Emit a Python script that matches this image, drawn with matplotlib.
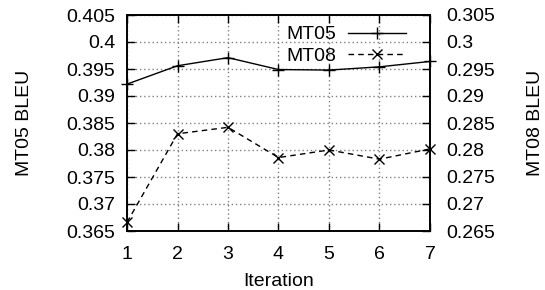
import matplotlib
matplotlib.use("Agg")
import matplotlib.pyplot as plt

plt.rcParams['font.family'] = ['Liberation Sans', 'DejaVu Sans']

iterations = [1, 2, 3, 4, 5, 6, 7]
mt05 = [0.3922, 0.3956, 0.3971, 0.3949, 0.3948, 0.3954, 0.3964]
mt08 = [0.2666, 0.2830, 0.2842, 0.2786, 0.2800, 0.2783, 0.2802]
left_ticks = [0.365, 0.37, 0.375, 0.38, 0.385, 0.39, 0.395, 0.4, 0.405]
left_labels = ["0.365", "0.37", "0.375", "0.38", "0.385", "0.39", "0.395", "0.4", "0.405"]
right_ticks = [0.265, 0.27, 0.275, 0.28, 0.285, 0.29, 0.295, 0.3, 0.305]
right_labels = ["0.265", "0.27", "0.275", "0.28", "0.285", "0.29", "0.295", "0.3", "0.305"]

fs = 14
fig = plt.figure(figsize=(5.45, 2.9), dpi=100)
ax = fig.add_axes([127/545, 1-231/290, (430-127)/545, (231-15)/290])
ax2 = ax.twinx()

l1, = ax.plot(iterations, mt05, color='black', lw=1, marker='+', ms=9, mew=1, clip_on=False, zorder=5)
l2, = ax2.plot(iterations, mt08, color='black', lw=1, ls=(0, (4, 3)), marker='x', ms=7, mew=1, clip_on=False, zorder=5)

ax.set_xlim(1, 7)
ax.set_ylim(0.365, 0.405)
ax2.set_ylim(0.265, 0.305)
ax.set_xticks(iterations)
ax.set_xticklabels([str(i) for i in iterations], fontsize=fs)
ax.set_yticks(left_ticks)
ax.set_yticklabels(left_labels, fontsize=fs)
ax2.set_yticks(right_ticks)
ax2.set_yticklabels(right_labels, fontsize=fs)

ax.tick_params(axis='x', direction='in', length=6, width=1, top=True, pad=11)
ax.tick_params(axis='y', direction='in', length=6, width=1, pad=8.5)
ax2.tick_params(axis='y', direction='in', length=6, width=1, pad=11.5)

ax.grid(True, color='#808080', ls=(0, (1, 2)), lw=1)
for sp in list(ax.spines.values()) + list(ax2.spines.values()):
    sp.set_linewidth(1.2)

ax.set_xlabel("Iteration", fontsize=fs, va='center')
ax.xaxis.set_label_coords(0.5, -(281-231)/216)
ax.set_ylabel("MT05 BLEU", fontsize=fs, va='center')
ax.yaxis.set_label_coords((24-127)/303, 0.5)
ax2.set_ylabel("MT08 BLEU", fontsize=fs, va='center')
ax2.yaxis.set_label_coords((535-127)/303, 0.5)

leg = ax2.legend([l1, l2], ["MT05", "MT08"], loc='upper right', bbox_to_anchor=((406-127)/303, 0.95),
                 frameon=False, markerfirst=False, fontsize=fs, handlelength=3.0,
                 handletextpad=0.57, labelspacing=0.2, borderpad=0, borderaxespad=0)

fig.savefig("out.png", dpi=100)
